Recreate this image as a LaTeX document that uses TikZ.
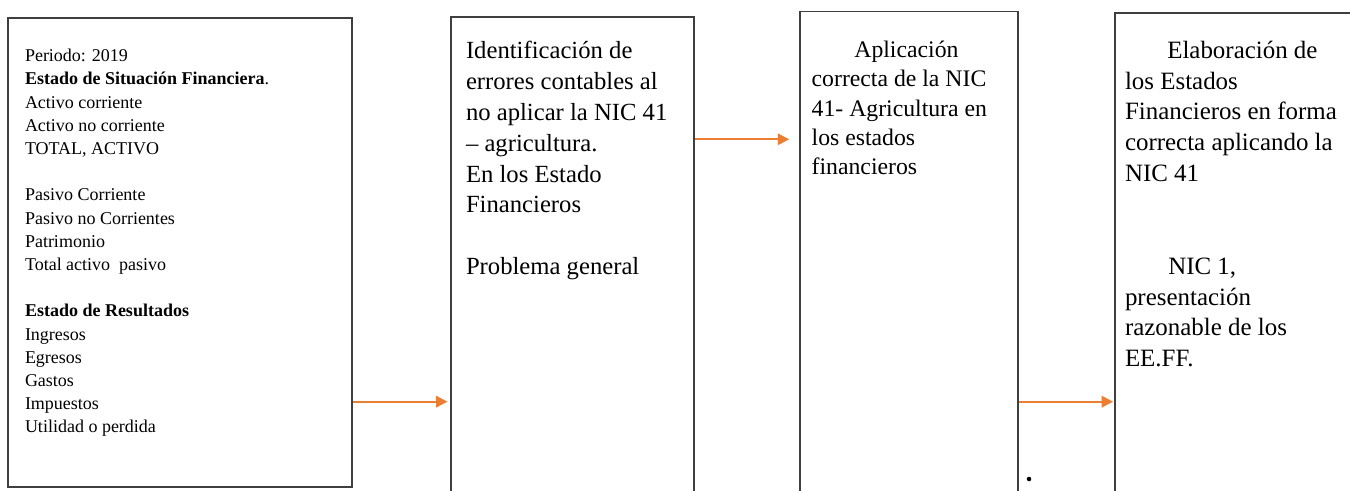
\documentclass[tikz,border=0pt]{standalone}
\usepackage{fontspec}
\setmainfont{Liberation Serif}
\usetikzlibrary{arrows.meta,fit}
\definecolor{boxline}{HTML}{3F3F3F}
\definecolor{arrowc}{HTML}{ED7D31}
\begin{document}
\begin{tikzpicture}[x=0.75pt,y=-0.75pt,
  box/.style={draw=boxline,line width=1.3pt,inner sep=0pt},
  arr/.style={draw=arrowc,line width=1.5pt,-{Triangle[length=8.5pt,width=8.5pt]}},
  txt/.style={anchor=base west,inner sep=0pt,outer sep=0pt}]
\useasboundingbox (0,0) rectangle (1350,491);
% boxes
\node[box,fit={(8.3,18.3)(352.3,486.7)}] (b1) {};
\node[box,fit={(451,17)(694,560)}] (b2) {};
\node[box,fit={(800,11.5)(1018,560)}] (b3) {};
\node[box,fit={(1115,12.7)(1440,560)}] (b4) {};
% texts
\node[txt,font=\fontsize{13.5}{17.4}\selectfont] (t1) at (25,61.7) {\begin{tabular}[t]{@{}l@{}}
Periodo: 2019\\
\textbf{Estado de Situación Financiera}.\\
Activo corriente\\
Activo no corriente\\
TOTAL, ACTIVO\\
\mbox{}\\
Pasivo Corriente\\
Pasivo no Corrientes\\
Patrimonio\\
Total activo\ \ pasivo\\
\mbox{}\\
\textbf{Estado de Resultados}\\
Ingresos\\
Egresos\\
Gastos\\
Impuestos\\
Utilidad o perdida
\end{tabular}};
\node[txt,font=\fontsize{18.5}{23.2}\selectfont] (t2) at (466,58.3) {\begin{tabular}[t]{@{}l@{}}
Identificación de\\
errores contables al\\
no aplicar la NIC 41\\
– agricultura.\\
En los Estado\\
Financieros\\
\mbox{}\\
Problema general
\end{tabular}};
\node[txt,font=\fontsize{17.8}{21.9}\selectfont] (t3) at (811.7,57.7) {\begin{tabular}[t]{@{}l@{}}
\hspace*{32pt}Aplicación\\
correcta de la NIC\\
41- Agricultura en\\
los estados\\
financieros
\end{tabular}};
\node[txt,font=\fontsize{18.7}{23.1}\selectfont] (t4) at (1125,58.3) {\begin{tabular}[t]{@{}l@{}}
\hspace*{31.7pt}Elaboración de\\
los Estados\\
Financieros en forma\\
correcta aplicando la\\
NIC 41
\end{tabular}};
\node[txt,font=\fontsize{18.7}{23.1}\selectfont] (t5) at (1125,274.3) {\begin{tabular}[t]{@{}l@{}}
\hspace*{32.5pt}NIC 1,\\
presentación\\
razonable de los\\
EE.FF.
\end{tabular}};
% dot
\node[circle,fill=black,inner sep=0pt,minimum size=3.4pt] (dot) at (1029,479) {};
% arrows
\coordinate (ylow) at (0,401.7);
\coordinate (yhigh) at (0,139.3);
\draw[arr,shorten >=2pt] (b1.east |- ylow) -- (b2.west |- ylow);
\draw[arr,shorten >=7.5pt] (b2.east |- yhigh) -- (b3.west |- yhigh);
\draw[arr,shorten >=0.8pt] (b3.east |- ylow) -- (b4.west |- ylow);
\end{tikzpicture}
\end{document}
